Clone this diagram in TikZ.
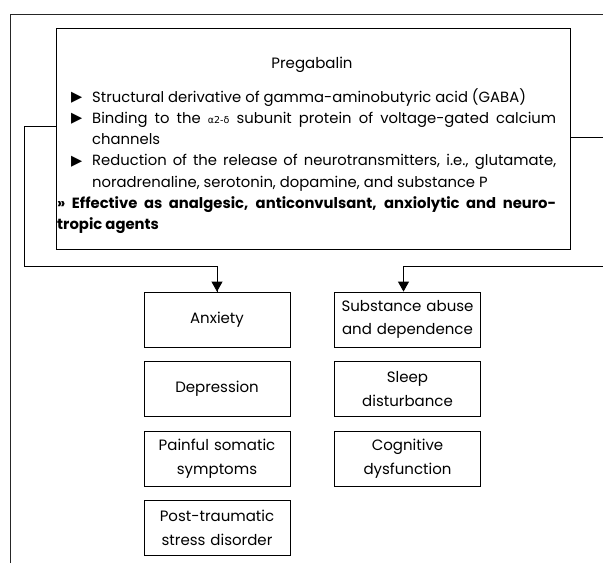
\documentclass[tikz,border=0pt]{standalone}
\usepackage{fontspec}
\setmainfont{Poppins}
\newfontfamily\symf{DejaVu Sans}
\usetikzlibrary{arrows.meta}
\newcommand{\tribullet}{\makebox[21pt][l]{\raisebox{0.5pt}{\symf\fontsize{14.5}{14.5}\selectfont ▶}}}
\begin{document}
\begin{tikzpicture}[x=1pt,y=-1pt,
  frame/.style={line width=0.8pt, draw=black!85},
  box/.style={draw, line width=0.8pt, minimum width=146pt, minimum height=55pt,
    text width=142pt, align=center, inner sep=2pt,
    font=\fontsize{15}{23.5}\selectfont},
  conn/.style={line width=0.8pt},
  arr/.style={conn, -{Triangle[length=10pt,width=11pt]}}]
\useasboundingbox (0,0) rectangle (603,563);
\draw[frame] (10,563) -- (10,14) -- (603,14);
\node[draw, line width=0.8pt, minimum width=514pt, minimum height=221pt,
  anchor=north west, inner sep=0pt] (main) at (56,28) {};
\node[anchor=base, inner sep=0pt, font=\fontsize{15}{18}\selectfont] (title) at (312,68) {Pregabalin};
\node[anchor=north west, inner sep=0pt, text width=499pt, align=justify,
  font=\fontsize{14.8}{21.3}\selectfont] (body) at (57,88) {%
{\leftskip=14pt\hangindent=21pt\hangafter=1\noindent\tribullet Structural derivative of gamma-aminobutyric acid (GABA)\par}
{\leftskip=14pt\hangindent=21pt\hangafter=1\noindent\tribullet Binding to the {\symf\fontsize{9.5}{9.5}\selectfont α2-δ} subunit protein of voltage-gated calcium\linebreak channels\par}
{\leftskip=14pt\hangindent=21pt\hangafter=1\noindent\tribullet Reduction of the release of neurotransmitters, i.e., glutamate,\linebreak noradrenaline, serotonin, dopamine, and substance P\par}
{\noindent\bfseries » Effective as analgesic, anticonvulsant, anxiolytic and neuro-\linebreak tropic agents\par}};
\node[box] (anx) at (217,319.5) {Anxiety};
\node[box] (dep) at (217,389) {Depression};
\node[box] (pain) at (217,458.5) {Painful somatic\\symptoms};
\node[box] (ptsd) at (217,528) {Post-traumatic\\stress disorder};
\node[box] (sub) at (407.5,319.5) {Substance abuse\\and dependence};
\node[box] (sleep) at (407.5,389) {Sleep\\disturbance};
\node[box] (cog) at (407.5,458.5) {Cognitive\\dysfunction};
\coordinate (lturn) at (24,126);
\coordinate (redge) at (603,137);
\coordinate (redge2) at (603,266);
\draw[conn] (main.west |- lturn) -- (lturn) |- (anx.north |- redge2) -- (anx.north);
\draw[arr] (anx.north |- 0,276) -- (anx.north);
\draw[conn] (main.east |- redge) -- (redge);
\draw[arr] (redge2) -| ([xshift=-4pt]sub.north);
\end{tikzpicture}
\end{document}
